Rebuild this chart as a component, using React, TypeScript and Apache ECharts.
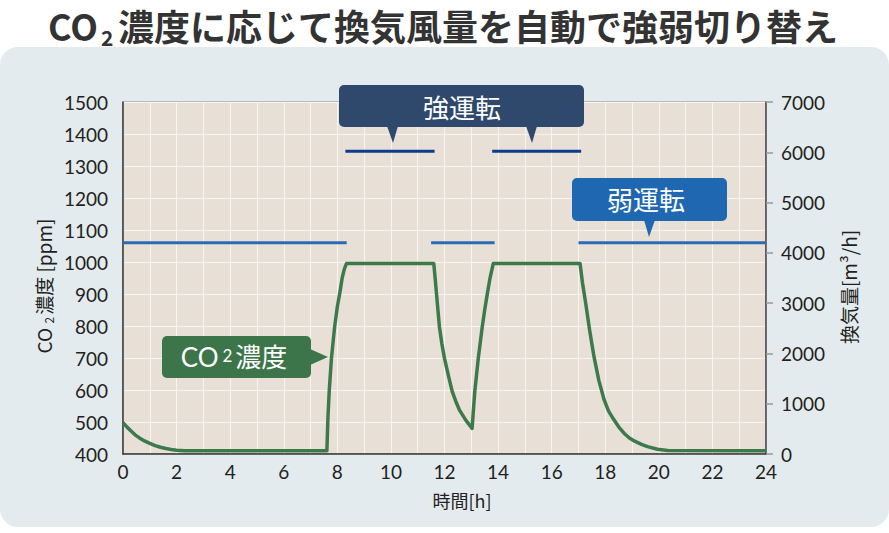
import React, { useEffect, useRef } from 'react';
import * as echarts from 'echarts';

// CO2 concentration curve (hour, ppm)
const co2Hours = [
  0, 0.15, 0.3, 0.45, 0.6, 0.8, 1.0, 1.2, 1.4, 1.6, 1.8, 2.0, 2.3,
  7.61, 7.65, 7.7, 7.78, 7.9, 8.0, 8.09, 8.18, 8.26, 8.34,
  11.6, 11.65, 11.7, 11.81, 11.9, 12.0, 12.15, 12.29, 12.42, 12.56, 12.8, 13.03,
  13.13, 13.26, 13.41, 13.5, 13.6, 13.7, 13.82,
  17.06, 17.15, 17.27, 17.42, 17.58, 17.76, 17.96, 18.12, 18.3, 18.5, 18.7, 18.9, 19.1, 19.35, 19.58, 19.95, 20.33, 24,
];
const co2Ppm = [
  498, 484, 472, 460, 451, 441, 433, 426, 421, 417, 414, 412, 410,
  410, 516, 600, 699, 798, 860, 902, 950, 978, 995,
  995, 950, 902, 798, 745, 699, 643, 595, 565, 537, 505, 480,
  595, 699, 798, 850, 902, 950, 995,
  995, 935, 871, 785, 704, 630, 569, 535, 510, 485, 465, 450, 440, 430, 423, 415, 411, 410,
];

// ventilation segments (m3/h on right axis)
const weakStart = [0, 11.5, 17.0];
const weakEnd = [8.35, 13.87, 24];
const weakLevel = 4200;
const strongStart = [8.3, 13.78];
const strongEnd = [11.63, 17.1];
const strongLevel = 6020;

const W = 889;
const H = 533;
const NUM_FONT = 'Lato, "Noto Sans CJK JP", sans-serif';
const JP_FONT = '"Noto Sans CJK JP", sans-serif';
const TEXT = '#231f20';

const segSeries = (starts: number[], ends: number[], level: number, color: string, name: string) =>
  starts.map((s, i) => ({
    name,
    type: 'line' as const,
    yAxisIndex: 1,
    symbol: 'none',
    silent: true,
    lineStyle: { color, width: 3 },
    z: 4,
    data: [[s, level], [ends[i], level]],
  }));

export default function App() {
  const ref = useRef<HTMLDivElement>(null);

  useEffect(() => {
    document.body.style.margin = '0';
    if (!ref.current) return;
    const chart = echarts.init(ref.current, null, { renderer: 'svg' });

    const strongBox = '#2f496d';
    const weakBox = '#1f68b1';
    const greenBox = '#3d754a';
    const titleStyle = { fill: '#333', fontWeight: 'bold', fontFamily: JP_FONT, verticalAlign: 'middle', align: 'left' };

    chart.setOption({
      animation: false,
      backgroundColor: 'transparent',
      grid: {
        left: 123, right: 123, top: 102, bottom: 79,
        show: true, backgroundColor: '#e8e0d6', borderColor: '#8a8a8a', borderWidth: 1,
      },
      xAxis: {
        type: 'value', min: 0, max: 24, interval: 1,
        axisLine: { show: true, onZero: false, lineStyle: { color: '#333', width: 1.5 } },
        axisTick: { show: false },
        splitLine: { show: true, lineStyle: { color: '#f8f4ee', width: 1 } },
        axisLabel: {
          formatter: (v: number) => (v % 2 === 0 ? String(v) : ''),
          fontSize: 19, color: TEXT, margin: 8, fontFamily: NUM_FONT,
        },
      },
      yAxis: [
        {
          type: 'value', min: 400, max: 1500, interval: 100, position: 'left',
          axisLine: { show: true, lineStyle: { color: '#333', width: 1.5 } },
          axisTick: { show: false },
          splitLine: { show: true, lineStyle: { color: '#f8f4ee', width: 1 } },
          axisLabel: {
            formatter: (v: number) => String(v),
            fontSize: 19, color: TEXT, margin: 15, padding: [0, 0, 6, 0], fontFamily: NUM_FONT,
          },
        },
        {
          type: 'value', min: 0, max: 7000, interval: 1000, position: 'right',
          axisLine: { show: true, lineStyle: { color: '#444', width: 1.5 } },
          axisTick: { show: true, length: 7, lineStyle: { color: '#999', width: 1.5 } },
          splitLine: { show: false },
          axisLabel: {
            formatter: (v: number) => String(v),
            fontSize: 19, color: TEXT, margin: 15, fontFamily: NUM_FONT,
          },
        },
      ],
      series: [
        {
          name: 'CO2濃度',
          type: 'line',
          yAxisIndex: 0,
          symbol: 'none',
          smooth: false,
          lineStyle: { color: '#3c7a4b', width: 3.5, join: 'round' },
          z: 3,
          data: co2Hours.map((h, i) => [h, co2Ppm[i]]),
        },
        ...segSeries(weakStart, weakEnd, weakLevel, '#2b6bb5', '弱運転'),
        ...segSeries(strongStart, strongEnd, strongLevel, '#0d3b8e', '強運転'),
      ],
      graphic: [
        // title, split into pieces for the subscript
        { type: 'text', x: 48, y: 25, z: 100, style: { ...titleStyle, text: 'CO', fontSize: 36 } },
        { type: 'text', x: 101, y: 37, z: 100, style: { ...titleStyle, text: '2', fontSize: 21 } },
        { type: 'text', x: 118, y: 25, z: 100, style: { ...titleStyle, text: '濃度に応じて換気風量を自動で強弱切り替え', fontSize: 36 } },
        // 強運転 callout
        { type: 'rect', z: 100, shape: { x: 339, y: 85, width: 245, height: 42, r: 5 }, style: { fill: strongBox } },
        { type: 'polygon', z: 100, shape: { points: [[387, 126], [398, 126], [393, 143]] }, style: { fill: strongBox } },
        { type: 'polygon', z: 100, shape: { points: [[526, 126], [537, 126], [532, 143]] }, style: { fill: strongBox } },
        {
          type: 'text', x: 462, y: 106, z: 101,
          style: { text: '強運転', fill: '#fff', fontSize: 26, fontFamily: JP_FONT, align: 'center', verticalAlign: 'middle' },
        },
        // 弱運転 callout
        { type: 'rect', z: 100, shape: { x: 572, y: 178, width: 155, height: 43, r: 5 }, style: { fill: weakBox } },
        { type: 'polygon', z: 100, shape: { points: [[644, 220], [655, 220], [649, 237]] }, style: { fill: weakBox } },
        {
          type: 'text', x: 646, y: 198, z: 101,
          style: { text: '弱運転', fill: '#fff', fontSize: 26, fontFamily: JP_FONT, align: 'center', verticalAlign: 'middle' },
        },
        // CO2濃度 callout
        { type: 'rect', z: 100, shape: { x: 162, y: 336, width: 149, height: 42, r: 5 }, style: { fill: greenBox } },
        { type: 'polygon', z: 100, shape: { points: [[310, 349], [310, 365], [328, 357]] }, style: { fill: greenBox } },
        {
          type: 'text', x: 234, y: 357, z: 101,
          style: {
            text: '{m|CO}{s|2}{m|濃度}', fill: '#fff', align: 'center', verticalAlign: 'middle',
            rich: {
              m: { fontSize: 26, fontFamily: NUM_FONT, fill: '#fff' },
              s: { fontSize: 17, fontFamily: NUM_FONT, fill: '#fff', padding: [0, 3, 4, 4] },
            },
          },
        },
        // axis names
        {
          type: 'text', x: 43, y: 286, rotation: Math.PI / 2, z: 100,
          style: {
            text: '{m|CO }{s|2}{m|濃度 [ppm]}', fill: TEXT, align: 'center', verticalAlign: 'middle',
            rich: {
              m: { fontSize: 19, fontFamily: JP_FONT, fill: TEXT, lineHeight: 22 },
              s: { fontSize: 12, fontFamily: JP_FONT, fill: TEXT, lineHeight: 12, verticalAlign: 'bottom', padding: [0, 2, 0, 0] },
            },
          },
        },
        {
          type: 'text', x: 848, y: 287, rotation: Math.PI / 2, z: 100,
          style: { text: '換気量[m³/h]', fill: TEXT, fontSize: 19, fontFamily: JP_FONT, align: 'center', verticalAlign: 'middle' },
        },
        {
          type: 'text', x: 462, y: 500, z: 100,
          style: { text: '時間[h]', fill: TEXT, fontSize: 18, fontFamily: JP_FONT, align: 'center', verticalAlign: 'middle' },
        },
      ],
    });

    return () => chart.dispose();
  }, []);

  return (
    <div style={{ position: 'relative', width: W, height: H, background: '#fff', overflow: 'hidden' }}>
      <div
        style={{
          position: 'absolute', left: 0, top: 47, width: W, height: 480,
          background: '#e4ebef', borderRadius: 18,
        }}
      />
      <div ref={ref} style={{ position: 'absolute', left: 0, top: 0, width: W, height: H }} />
    </div>
  );
}
